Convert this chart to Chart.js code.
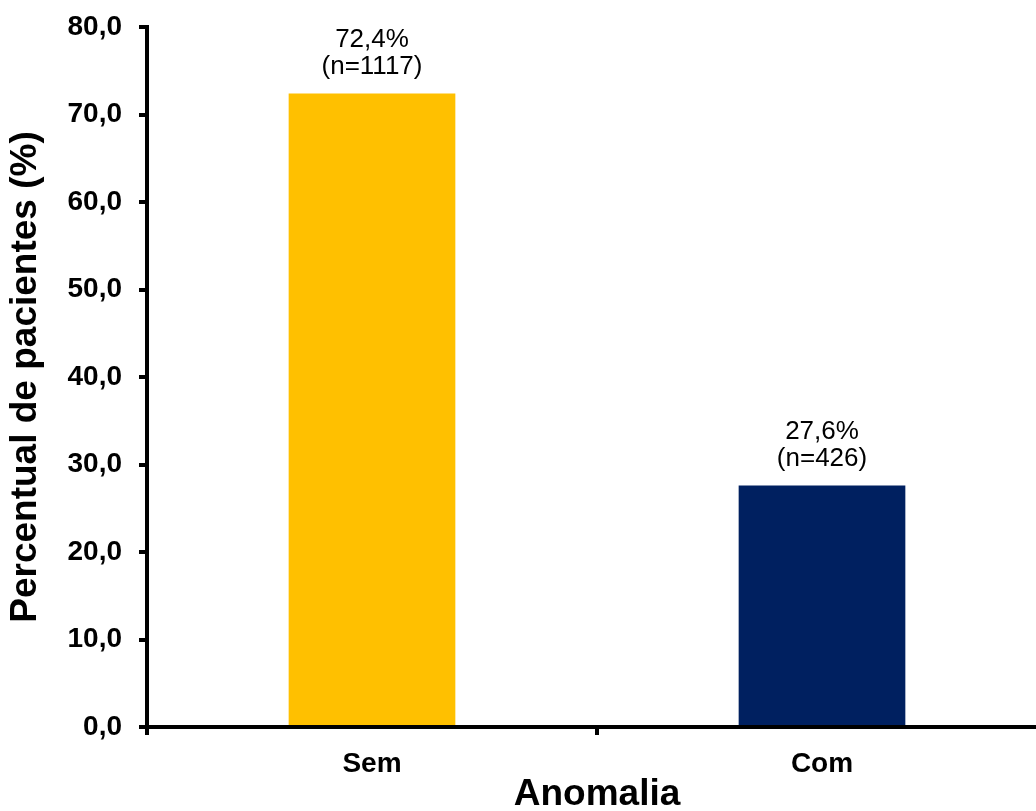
<!DOCTYPE html>
<html lang="pt">
<head>
<meta charset="utf-8">
<title>Percentual de pacientes por anomalia</title>
<script src="https://cdn.jsdelivr.net/npm/chart.js@4/dist/chart.umd.min.js"></script>
<style>
  html, body { margin: 0; padding: 0; background: #ffffff; overflow: hidden; }
  #wrap { width: 1036px; height: 811px; overflow: hidden; position: relative; }
  #chart { display: block; }
</style>
</head>
<body>
<div id="wrap"><canvas id="chart" width="1050" height="830"></canvas></div>
<script>
// Categories and values
const categories = ['Sem', 'Com'];
const percentages = [72.4, 27.6];
const patientCounts = [1117, 426];
const barColors = ['#FFC000', '#002060'];

// Y axis range and step
const yMin = 0;
const yMax = 80;
const yStep = 10;

const FONT = '"Liberation Sans", Arial, Helvetica, sans-serif';

const fmtComma = (v) => Number(v).toFixed(1).replace('.', ',');

// Two-line value labels above each bar: percentage and patient count
const valueLabels = {
  id: 'valueLabels',
  afterDatasetsDraw(chart) {
    const ctx = chart.ctx;
    const meta = chart.getDatasetMeta(0);
    ctx.save();
    ctx.fillStyle = '#000000';
    ctx.font = '26px ' + FONT;
    ctx.textAlign = 'center';
    ctx.textBaseline = 'alphabetic';
    meta.data.forEach((bar, i) => {
      const pctText = fmtComma(percentages[i]) + '%';
      const nText = '(n=' + patientCounts[i] + ')';
      ctx.fillText(pctText, bar.x, bar.y - 47);
      ctx.fillText(nText, bar.x, bar.y - 20);
    });
    ctx.restore();
  }
};

new Chart(document.getElementById('chart'), {
  type: 'bar',
  data: {
    labels: categories,
    datasets: [{
      data: percentages,
      backgroundColor: barColors,
      borderWidth: 0,
      barPercentage: 0.3704,
      categoryPercentage: 1.0
    }]
  },
  options: {
    responsive: false,
    animation: false,
    devicePixelRatio: 1,
    layout: { padding: { top: 27, right: 3, bottom: 0, left: 0 } },
    plugins: {
      legend: { display: false },
      tooltip: { enabled: false }
    },
    scales: {
      x: {
        grid: {
          display: true,
          drawOnChartArea: false,
          drawTicks: true,
          tickLength: 8,
          lineWidth: 4,
          color: '#000000',
          offset: true
        },
        border: { display: true, color: '#000000', width: 4 },
        ticks: {
          color: '#000000',
          padding: 12,
          font: { family: FONT, size: 28, weight: 'bold' }
        },
        title: {
          display: true,
          text: 'Anomalia',
          color: '#000000',
          padding: { top: 0, bottom: 13 },
          font: { family: FONT, size: 37, weight: 'bold' }
        },
        afterFit(scale) {
          scale.height = 103;
          scale.paddingLeft = 0;
          scale.paddingRight = 0;
        }
      },
      y: {
        min: yMin,
        max: yMax,
        grid: {
          display: true,
          drawOnChartArea: false,
          drawTicks: true,
          tickLength: 8,
          lineWidth: 4,
          color: '#000000'
        },
        border: { display: true, color: '#000000', width: 4 },
        ticks: {
          stepSize: yStep,
          color: '#000000',
          padding: 17,
          font: { family: FONT, size: 28, weight: 'bold' },
          callback: (v) => fmtComma(v)
        },
        title: {
          display: true,
          text: 'Percentual de pacientes (%)',
          color: '#000000',
          padding: { top: 4, bottom: 4 },
          font: { family: FONT, size: 37, weight: 'bold' }
        },
        afterFit(scale) {
          scale.width = 147;
          scale.paddingTop = 0;
          scale.paddingBottom = 0;
        }
      }
    }
  },
  plugins: [valueLabels]
});
</script>
</body>
</html>
